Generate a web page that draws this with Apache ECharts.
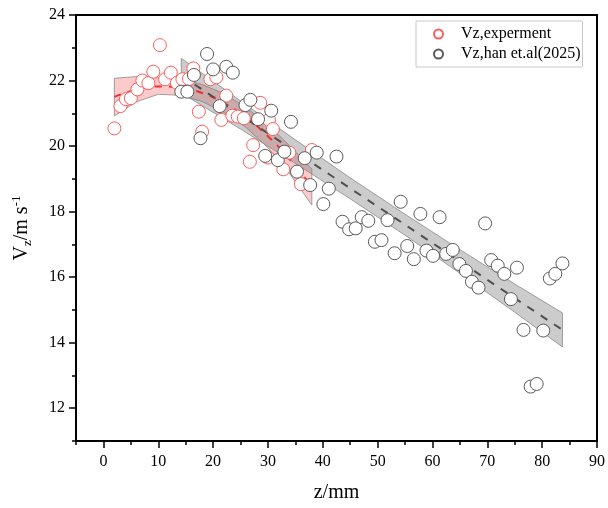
<!DOCTYPE html>
<html>
<head>
<meta charset="utf-8">
<script src="https://cdn.jsdelivr.net/npm/echarts@6/dist/echarts.min.js"></script>
<style>
  html, body { margin: 0; padding: 0; background: #fff; }
  #chart { width: 608px; height: 508px; }
</style>
</head>
<body>
<div id="chart"></div>
<script>
// measured points, Vz (m/s) against z (mm)
let expZ = [2.0, 3.1, 4.1, 5.0, 6.2, 7.1, 8.2, 9.1, 10.3, 11.25, 12.3, 13.4, 14.4, 15.6, 16.4, 17.4, 18.0,
            19.5, 20.6, 21.5, 22.4, 23.5, 24.5, 25.6, 26.7, 27.3, 28.6, 30.2, 30.9, 30.0, 32.8, 33.9, 36.0, 38.0];
let expV = [20.54, 21.22, 21.43, 21.46, 21.73, 22.0, 21.92, 22.27, 23.08, 22.04, 22.24, 21.93, 22.04, 22.05, 22.37, 21.05, 20.44,
            22.04, 22.1, 20.8, 21.54, 20.93, 20.9, 20.85, 19.52, 20.03, 21.32, 20.8, 20.52, 19.65, 19.29, 19.8, 18.84, 19.88];

let hanZ = [14.2, 15.3, 16.5, 17.7, 18.9, 20.0, 21.2, 22.4, 23.6, 25.9, 26.8, 28.2, 29.5, 30.6, 31.8, 33.0, 34.2, 35.3,
            36.7, 37.7, 38.9, 40.1, 41.1, 42.5, 43.6, 44.8, 46.0, 47.1, 48.3, 49.5, 50.7, 51.8, 53.1, 54.2, 55.4, 56.6,
            57.8, 58.9, 60.1, 61.3, 62.5, 63.7, 64.9, 66.1, 67.2, 68.4, 69.6, 70.7, 71.9, 73.1, 74.3, 75.4, 76.6, 77.9,
            79.0, 80.2, 81.4, 82.4, 83.7];
let hanV = [21.66, 21.66, 22.17, 20.24, 22.81, 22.34, 21.22, 22.42, 22.24, 21.25, 21.41, 20.82, 19.7, 21.08, 19.57, 19.83, 20.74, 19.22,
            19.63, 18.81, 19.8, 18.23, 18.7, 19.68, 17.69, 17.46, 17.49, 17.83, 17.72, 17.08, 17.13, 17.74, 16.73, 18.3, 16.95, 16.55,
            17.93, 16.81, 16.65, 17.83, 16.71, 16.83, 16.4, 16.19, 15.86, 15.68, 17.64, 16.52, 16.35, 16.1, 15.33, 16.29, 14.39, 12.66,
            12.74, 14.37, 15.96, 16.1, 16.42];

// fitted curves and their confidence bands
let expFitZ = [2, 6, 10, 14, 18, 22, 26, 30, 34, 38];
let expFit = [21.5, 21.72, 21.82, 21.79, 21.62, 21.31, 20.87, 20.3, 19.59, 18.76];
let expUpper = [22.07, 22.12, 22.08, 22.05, 21.88, 21.6, 21.18, 20.65, 20.0, 19.3];
let expLower = [20.92, 21.35, 21.58, 21.55, 21.36, 21.03, 20.57, 19.95, 19.15, 18.2];

let hanFitZ = [14.2, 25, 35, 45, 55, 65, 75, 83.7];
let hanFit = [22.15, 20.95, 19.83, 18.71, 17.6, 16.48, 15.36, 14.39];
let hanUpper = [22.68, 21.38, 20.19, 19.03, 17.92, 16.84, 15.79, 14.91];
let hanLower = [21.62, 20.52, 19.47, 18.39, 17.28, 16.12, 14.93, 13.87];

let xTicks = [0, 10, 20, 30, 40, 50, 60, 70, 80, 90];
let yTicks = [12, 14, 16, 18, 20, 22, 24];

let font = 'Liberation Serif';

function pairs(xs, ys) {
    return xs.map(function (x, i) { return [x, ys[i]]; });
}

function bandSeries(zs, up, low, fill, z) {
    return {
        type: 'custom',
        silent: true,
        z: z,
        data: [[zs[0], up[0]]],
        renderItem: function (params, api) {
            let pts = [];
            for (let i = 0; i < zs.length; i++) pts.push(api.coord([zs[i], up[i]]));
            for (let i = zs.length - 1; i >= 0; i--) pts.push(api.coord([zs[i], low[i]]));
            return {
                type: 'polygon',
                shape: { points: pts },
                style: { fill: fill, stroke: '#8a8a8a', lineWidth: 0.8 }
            };
        }
    };
}

let chart = echarts.init(document.getElementById('chart'));

chart.setOption({
    backgroundColor: '#fff',
    animation: false,
    grid: {
        left: 76, right: 8, top: 15, bottom: 67,
        show: true, borderColor: '#000', borderWidth: 2
    },
    legend: {
        left: 416, top: 21,
        orient: 'vertical',
        padding: [5, 2, 5, 17],
        itemGap: 4,
        itemWidth: 9, itemHeight: 9,
        borderColor: '#c8c8c8', borderWidth: 1,
        backgroundColor: '#fff',
        textStyle: { fontFamily: font, fontSize: 16, color: '#000', padding: [0, 0, 0, 13] },
        data: ['Vz,experment', 'Vz,han et.al(2025)']
    },
    xAxis: [{
        type: 'value', min: -5, max: 90, interval: 5,
        axisLine: { onZero: false, lineStyle: { color: '#000', width: 2 } },
        axisTick: { length: 4, lineStyle: { color: '#000', width: 1.5 } },
        axisLabel: { show: false },
        splitLine: { show: false }
    }, {
        type: 'value', min: -5, max: 90, position: 'bottom',
        axisLine: { show: false, onZero: false },
        axisTick: { customValues: xTicks, length: 7, lineStyle: { color: '#000', width: 1.5 } },
        axisLabel: { customValues: xTicks, margin: 13, fontFamily: font, fontSize: 16, color: '#000' },
        splitLine: { show: false },
        name: 'z/mm', nameLocation: 'middle', nameGap: 42,
        nameTextStyle: { fontFamily: font, fontSize: 20, color: '#000' }
    }],
    yAxis: [{
        type: 'value', min: 11, max: 24, interval: 1,
        axisLine: { onZero: false, lineStyle: { color: '#000', width: 2 } },
        axisTick: { length: 4, lineStyle: { color: '#000', width: 1.5 } },
        axisLabel: { show: false },
        splitLine: { show: false }
    }, {
        type: 'value', min: 11, max: 24, position: 'left',
        axisLine: { show: false, onZero: false },
        axisTick: { customValues: yTicks, length: 7, lineStyle: { color: '#000', width: 1.5 } },
        axisLabel: { customValues: yTicks, margin: 11, fontFamily: font, fontSize: 16, color: '#000' },
        splitLine: { show: false },
        name: '{v|V}{s|z}{v|/m s}{p|-1}', nameLocation: 'middle', nameGap: 42, nameRotate: 90,
        nameTextStyle: {
            fontFamily: font, fontSize: 20, color: '#000',
            rich: {
                v: { fontFamily: font, fontSize: 20, color: '#000', lineHeight: 24 },
                s: { fontFamily: font, fontSize: 13, color: '#000', verticalAlign: 'bottom', lineHeight: 24 },
                p: { fontFamily: font, fontSize: 13, color: '#000', verticalAlign: 'top', lineHeight: 24 }
            }
        }
    }],
    series: [
        bandSeries(expFitZ, expUpper, expLower, 'rgba(245, 90, 90, 0.32)', 1),
        bandSeries(hanFitZ, hanUpper, hanLower, 'rgba(120, 120, 120, 0.38)', 1),
        {
            type: 'line', silent: true, z: 2, smooth: true, showSymbol: false,
            data: pairs(expFitZ, expFit),
            lineStyle: { color: '#e8302f', width: 2, type: [7, 7] }
        },
        {
            type: 'line', silent: true, z: 2, showSymbol: false,
            data: pairs(hanFitZ, hanFit),
            lineStyle: { color: '#505050', width: 2, type: [8, 8] }
        },
        {
            name: 'Vz,experment', type: 'scatter', z: 3,
            symbol: 'circle', symbolSize: 13,
            data: pairs(expZ, expV),
            itemStyle: { color: '#fff', borderColor: '#ff5c5c', borderWidth: 1, opacity: 1 }
        },
        {
            name: 'Vz,han et.al(2025)', type: 'scatter', z: 4,
            symbol: 'circle', symbolSize: 13,
            data: pairs(hanZ, hanV),
            itemStyle: { color: '#fff', borderColor: '#5a5a5a', borderWidth: 1, opacity: 1 }
        }
    ]
});
</script>
</body>
</html>
